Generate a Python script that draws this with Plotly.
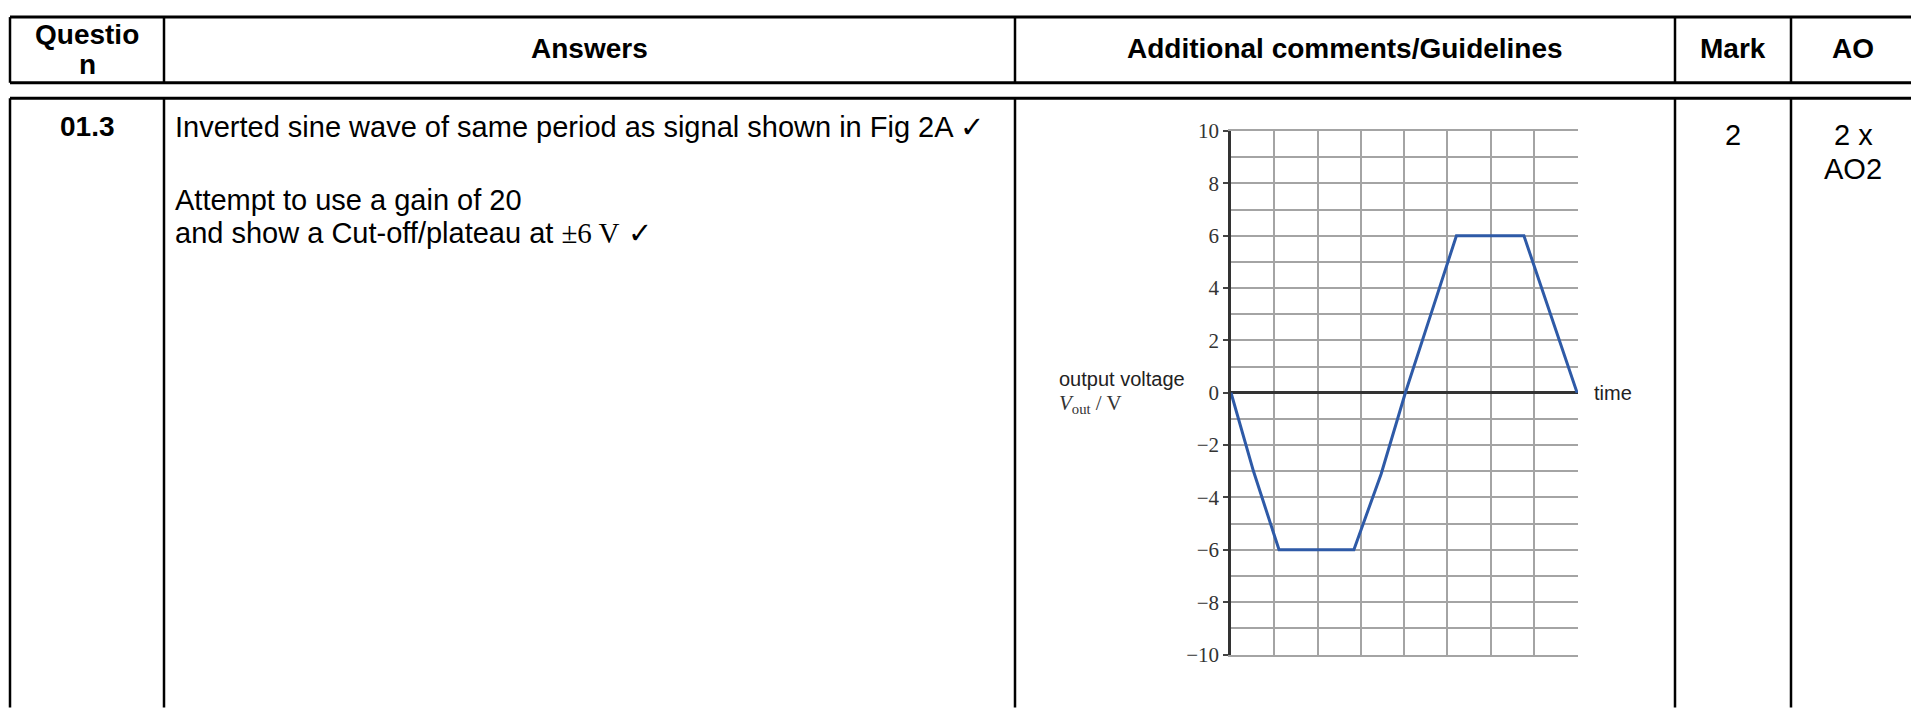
import plotly.graph_objects as go

# ---- data ----
time_div = [0, 0.52, 1.11, 2.84, 3.47, 4.03, 4.6, 5.21, 6.77, 8.0]
vout = [0, -3.0, -6, -6, -3.1, 0, 2.9, 6, 6, 0]
ytick_vals = [-10, -8, -6, -4, -2, 0, 2, 4, 6, 8, 10]

headers = ["Questio", "n", "Answers", "Additional comments/Guidelines", "Mark", "AO"]
question = "01.3"
answer_lines = [
    "Inverted sine wave of same period as signal shown in Fig 2A \u2713",
    "Attempt to use a gain of 20",
    "and show a Cut-off/plateau at <span style='font-family:Liberation Serif'>\u00b16 V</span> \u2713",
]
mark = "2"
ao_lines = ["2 x", "AO2"]

# page body has an 8px margin, so the figure starts at (8, 8)
OFF = 8
W, H = 1911, 701
def fx(x):
    return (x - OFF) / W
def fy(y):
    return 1 - (y - OFF) / H

cols = [10, 164, 1015, 1675, 1791, 1915]
hdr_top, hdr_bot, row_top = 5, 73, 89

fig = go.Figure()
fig.add_trace(go.Scatter(x=time_div, y=vout, mode="lines",
                         line=dict(color="#2e5aa7", width=3),
                         showlegend=False, hoverinfo="skip"))

shapes = []
def line(x0, y0, x1, y1, w=2.5):
    shapes.append(dict(type="line", xref="paper", yref="paper",
                       x0=fx(x0), y0=fy(y0), x1=fx(x1), y1=fy(y1),
                       line=dict(color="black", width=w)))
for yy in (hdr_top, hdr_bot, row_top):
    line(cols[0], yy, cols[-1], yy, 3)
for cx in cols:
    line(cx, hdr_top, cx, hdr_bot)
    line(cx, row_top, cx, 720)

ann = []
def text(x, y, t, size=29, bold=False, xanchor="left", family="Liberation Sans", color="black"):
    if bold:
        t = "<b>" + t + "</b>"
    ann.append(dict(xref="paper", yref="paper", x=fx(x), y=fy(y), text=t,
                    showarrow=False, xanchor=xanchor, yanchor="middle",
                    font=dict(family=family, size=size, color=color)))

centers = [(cols[i] + cols[i + 1]) / 2 for i in range(5)]
text(centers[0], 23, headers[0], size=28, bold=True, xanchor="center")
text(centers[0], 54, headers[1], size=28, bold=True, xanchor="center")
text(centers[1], 38, headers[2], size=28, bold=True, xanchor="center")
text(centers[2], 38, headers[3], size=28, bold=True, xanchor="center")
text(centers[3], 38, headers[4], size=28, bold=True, xanchor="center")
text(centers[4], 38, headers[5], size=28, bold=True, xanchor="center")

text(centers[0], 118, question, size=28, bold=True, xanchor="center")
text(173, 119, answer_lines[0])
text(173, 194, answer_lines[1])
text(173, 229, answer_lines[2])
text(centers[3], 127, mark, xanchor="center")
text(centers[4], 127, ao_lines[0], xanchor="center")
text(centers[4], 162, ao_lines[1], xanchor="center")

text(1057, 380, "output voltage", size=20, color="#222")
text(1057, 406, "<i>V</i><sub>out</sub> / V", size=21, family="Liberation Serif", color="#333")
text(1592, 394, "time", size=20, color="#222")

grid_c = "#a4a4a4"
fig.update_layout(
    width=W, height=H, margin=dict(l=0, r=0, t=0, b=0),
    paper_bgcolor="white", plot_bgcolor="white",
    shapes=shapes, annotations=ann,
    xaxis=dict(domain=[fx(1231), fx(1578)], range=[0, 8.02], dtick=1,
               showgrid=True, gridcolor=grid_c, gridwidth=1.5,
               showticklabels=False, zeroline=False,
               showline=True, mirror=True, linecolor=grid_c, linewidth=1.5,
               ticks=""),
    yaxis=dict(domain=[fy(665), fy(123)], range=[-10, 10],
               tickmode="array", tickvals=ytick_vals,
               ticks="outside", ticklen=5, tickcolor="#444", tickwidth=1.5,
               showgrid=True, gridcolor=grid_c, gridwidth=1.5,
               minor=dict(tickmode="linear", dtick=1, showgrid=True,
                          gridcolor=grid_c, gridwidth=1.5, ticks=""),
               showline=True, linecolor="#333", linewidth=2.5,
               zeroline=True, zerolinecolor="#333", zerolinewidth=2.5,
               tickfont=dict(family="Liberation Serif", size=21, color="#333")),
)

fig.write_html("out.html")
